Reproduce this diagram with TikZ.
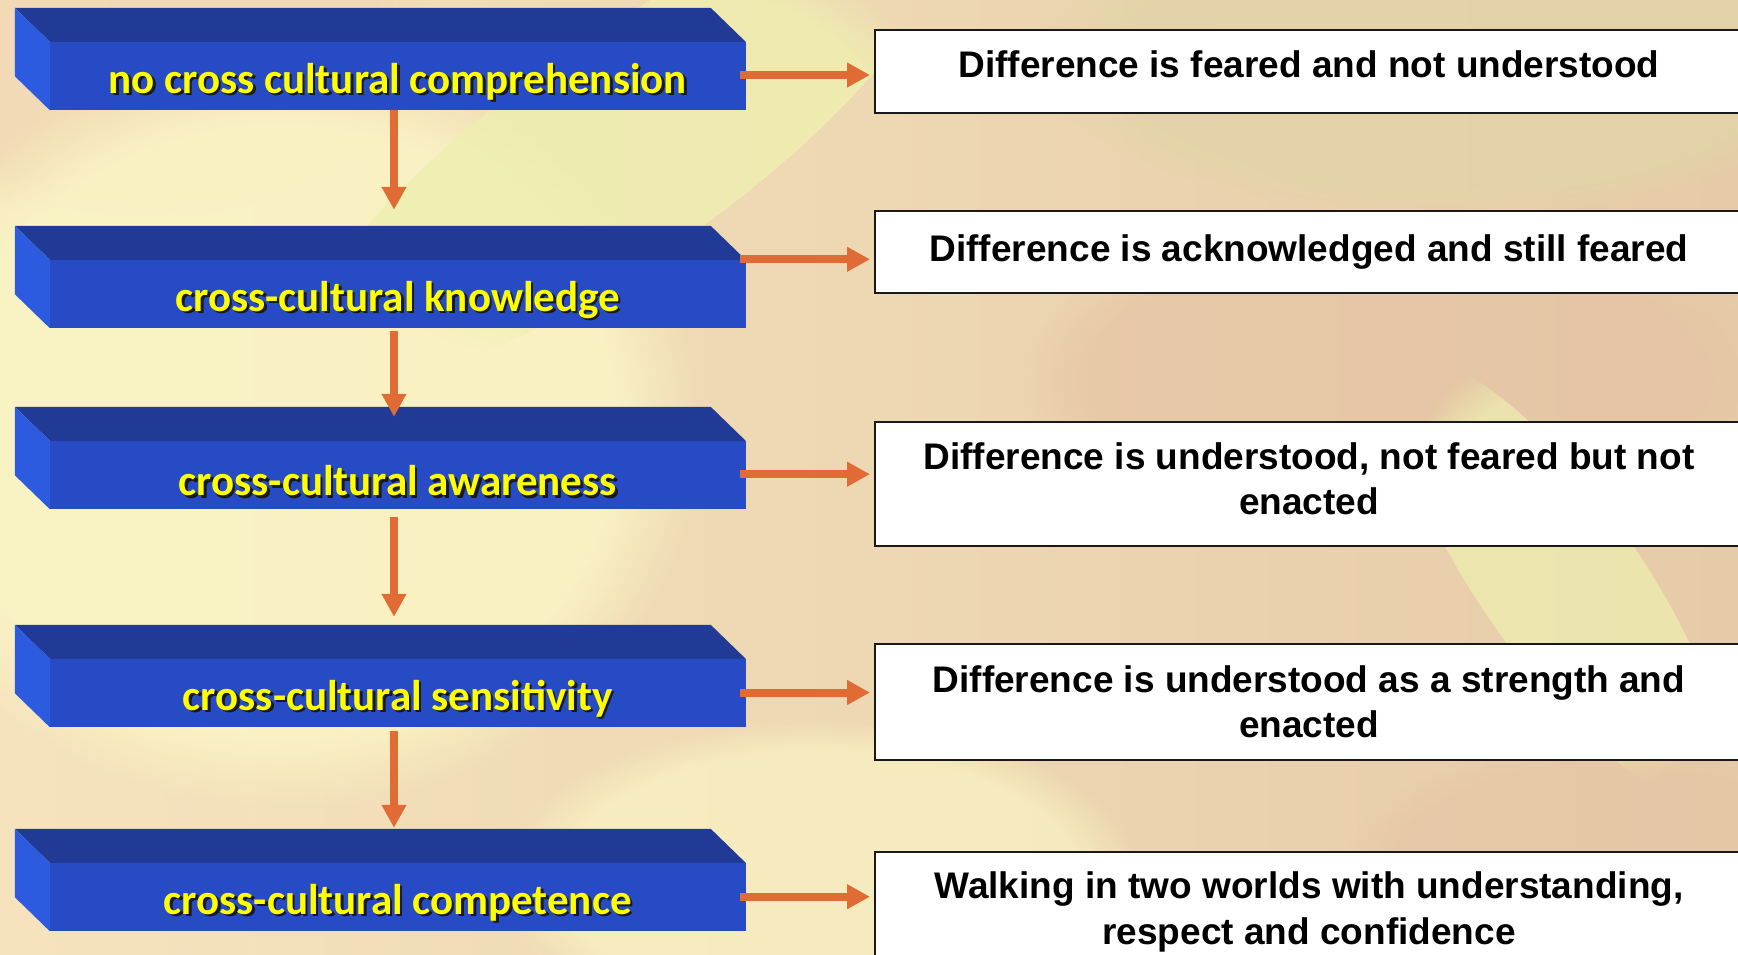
\documentclass[tikz,border=0pt]{standalone}
\usepackage{fontspec}
\setmainfont{Liberation Sans}
\newfontfamily\calib{Carlito}
\usetikzlibrary{arrows.meta,calc,fadings}
\definecolor{bgleft}{HTML}{F6E3BE}
\definecolor{bgright}{HTML}{E6CBA8}
\definecolor{paleyellow}{HTML}{FAF4C4}
\definecolor{yellowgreen}{HTML}{EEEFB0}
\definecolor{khaki}{HTML}{E2D4A8}
\definecolor{pinktan}{HTML}{E5C3A4}
\definecolor{peach}{HTML}{F2D8B4}
\definecolor{frontc}{HTML}{274BC5}
\definecolor{topc}{HTML}{203A95}
\definecolor{sidec}{HTML}{2D5BE0}
\definecolor{arrowc}{HTML}{E06B35}
\definecolor{ytext}{HTML}{FFFF00}
\newcommand\ytxt[1]{\raisebox{-7pt}[\height][\depth]{\makebox[0pt][l]{\hspace{2.5pt}\raisebox{-2.5pt}{\color{black!90}#1}}{\color{ytext}#1}}}
\begin{document}
\begin{tikzpicture}[x=1pt,y=-1pt,
  front/.style={fill=frontc, minimum width=695.5pt, minimum height=68pt, inner sep=0pt,
    font=\calib\bfseries\fontsize{43}{50}\selectfont},
  rbox/.style={draw=black!90, line width=2pt, fill=white, minimum width=868pt, inner sep=0pt},
  rtext/.style={font=\bfseries\fontsize{37}{45.4}\selectfont, align=center, text=black, inner sep=0pt},
  flow/.style={draw=arrowc, line width=8pt, -{Triangle[width=23.5pt,length=23pt]}},
  blob/.style={path fading=circle with fuzzy edge 20 percent}]
\useasboundingbox (0,0) rectangle (1738,955);
% background
\shade[left color=bgleft, right color=bgright] (0,0) rectangle (1738,955);
\fill[peach, blob, fill opacity=0.8] (120,40) ellipse [x radius=320pt, y radius=180pt];
\fill[paleyellow, blob, fill opacity=0.9] (280,430) ellipse [x radius=420pt, y radius=380pt];
\fill[yellowgreen, blob, fill opacity=0.8, rotate around={35:(620,150)}] (620,150) ellipse [x radius=380pt, y radius=110pt];
\fill[khaki, blob, fill opacity=0.7] (1450,60) ellipse [x radius=420pt, y radius=160pt];
\fill[pinktan, blob, fill opacity=0.7] (1400,380) ellipse [x radius=380pt, y radius=170pt];
\fill[yellowgreen, blob, fill opacity=0.7, rotate around={-55:(1560,580)}] (1560,580) ellipse [x radius=260pt, y radius=80pt];
\fill[paleyellow, blob, fill opacity=0.7] (820,880) ellipse [x radius=320pt, y radius=160pt];
\fill[pinktan, blob, fill opacity=0.6] (1600,880) ellipse [x radius=260pt, y radius=140pt];
% left 3D boxes (front faces)
\node[front] (b1) at (397.75,76) {\ytxt{no cross cultural comprehension}};
\node[front] (b2) at (397.75,294) {\ytxt{cross-cultural knowledge}};
\node[front] (b3) at (397.75,475) {\ytxt{cross-cultural awareness}};
\node[front] (b4) at (397.75,693) {\ytxt{cross-cultural sensitivity}};
\node[front] (b5) at (397.75,897) {\ytxt{cross-cultural competence}};
\foreach \b in {b1,b2,b3,b4,b5}{
  \fill[topc] (\b.north west) -- ($(\b.north west)+(-35,-34)$) -- ($(\b.north east)+(-35,-34)$) -- (\b.north east) -- cycle;
  \fill[sidec] (\b.north west) -- ($(\b.north west)+(-35,-34)$) -- ($(\b.south west)+(-35,-34)$) -- (\b.south west) -- cycle;
}
% right boxes
\node[rbox, minimum height=82.3pt] (r1) at (1309,71.6) {};
\node[rbox, minimum height=82.6pt] (r2) at (1309,252) {};
\node[rbox, minimum height=123.4pt] (r3) at (1309,484) {};
\node[rbox, minimum height=116pt] (r4) at (1309,702) {};
\node[rbox, minimum height=150pt] (r5) at (1309,926.7) {};
\node[rtext] (t1) at (1309,64) {Difference is feared and not understood};
\node[rtext] (t2) at (1309,252.4) {Difference is acknowledged and still feared};
\node[rtext] (t3) at (1309,479) {Difference is understood, not feared but not\\enacted};
\node[rtext] (t4) at (1309,702) {Difference is understood as a strength and\\enacted};
\node[rtext] (t5) at (1309,912) {Walking in two worlds with understanding,\\respect and confidence};
% vertical arrows
\draw[flow] ([xshift=-3.75pt]b1.south) -- ([xshift=-3.75pt,yshift=50pt]b2.north);
\draw[flow] ([xshift=-3.75pt,yshift=-2.5pt]b2.south) -- ([xshift=-3.75pt,yshift=24pt]b3.north);
\draw[flow] ([xshift=-3.75pt,yshift=-8pt]b3.south) -- ([xshift=-3.75pt,yshift=42pt]b4.north);
\draw[flow] ([xshift=-3.75pt,yshift=-4pt]b4.south) -- ([xshift=-3.75pt,yshift=35pt]b5.north);
% horizontal arrows
\coordinate (h1) at (0,75);
\coordinate (h2) at (0,259.3);
\coordinate (h3) at (0,474.2);
\coordinate (h4) at (0,692.5);
\coordinate (h5) at (0,896.7);
\draw[flow, shorten >=4pt] ([xshift=-6pt]b1.east |- h1) -- (r1.west |- h1);
\draw[flow, shorten >=4pt] ([xshift=-6pt]b2.east |- h2) -- (r2.west |- h2);
\draw[flow, shorten >=4pt] ([xshift=-6pt]b3.east |- h3) -- (r3.west |- h3);
\draw[flow, shorten >=4pt] ([xshift=-6pt]b4.east |- h4) -- (r4.west |- h4);
\draw[flow, shorten >=4pt] ([xshift=-6pt]b5.east |- h5) -- (r5.west |- h5);
\end{tikzpicture}
\end{document}
